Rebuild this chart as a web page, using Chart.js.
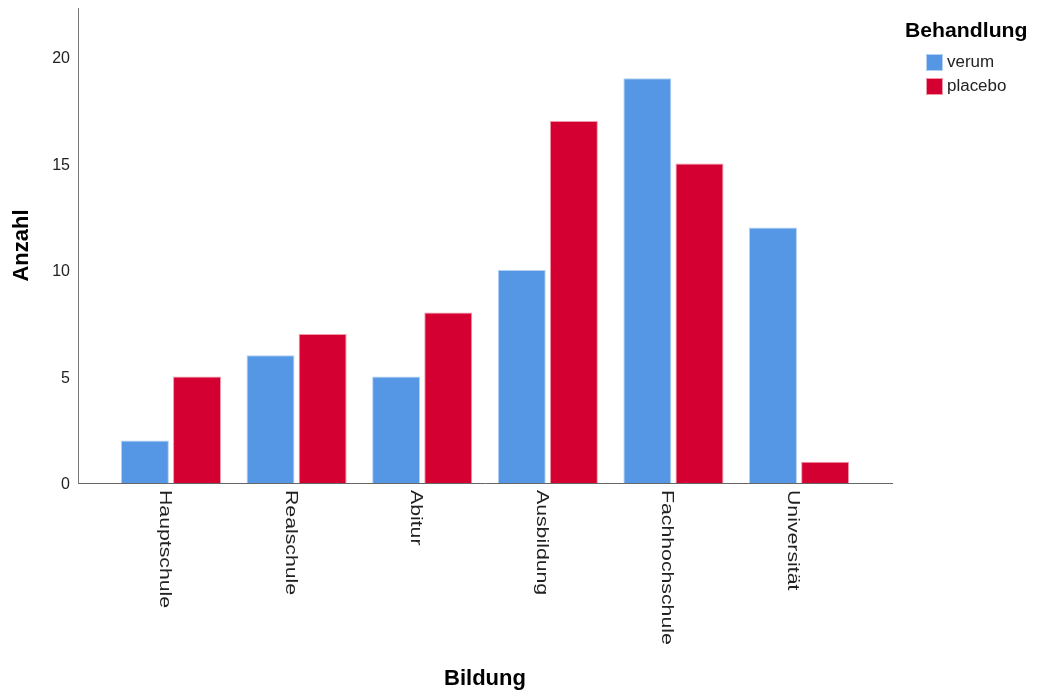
<!DOCTYPE html>
<html>
<head>
<meta charset="utf-8">
<script src="https://cdn.jsdelivr.net/npm/chart.js@4"></script>
<style>
  html, body { margin: 0; padding: 0; background: #fff; }
  #wrap { width: 1038px; height: 693px; }
</style>
</head>
<body>
<div id="wrap"><canvas id="chart" width="1038" height="693"></canvas></div>
<script>
// Data
const categories = ['Hauptschule', 'Realschule', 'Abitur', 'Ausbildung', 'Fachhochschule', 'Universität'];
const verum = [2, 6, 5, 10, 19, 12];
const placebo = [5, 7, 8, 17, 15, 1];
const seriesNames = ['verum', 'placebo'];
const yTicks = [0, 5, 10, 15, 20];

const colors = {
    verum: '#5597e4',
    placebo: '#d50032'
};
const borders = {
    verum: '#b3d0f3',
    placebo: '#ee97a8'
};

const FONT = 'Arial, "Liberation Sans", sans-serif';

// rotated category labels (clockwise, reading downwards)
const categoryLabels = {
    id: 'categoryLabels',
    afterDraw(chart) {
        const ctx = chart.ctx;
        const xs = chart.scales.x;
        ctx.save();
        ctx.fillStyle = '#222';
        ctx.font = '17px ' + FONT;
        ctx.textBaseline = 'alphabetic';
        ctx.textAlign = 'left';
        categories.forEach((label, i) => {
            const px = xs.getPixelForValue(i);
            ctx.save();
            ctx.translate(px - 11, chart.chartArea.bottom + 7);
            ctx.rotate(Math.PI / 2);
            ctx.scale(1.25, 1);
            ctx.fillText(label, 0, 0);
            ctx.restore();
        });
        ctx.restore();
    }
};

// legend block at the top right
const sideLegend = {
    id: 'sideLegend',
    afterDraw(chart) {
        const ctx = chart.ctx;
        const left = chart.chartArea.right;
        ctx.save();
        ctx.fillStyle = '#000';
        ctx.font = 'bold 20px ' + FONT;
        ctx.textBaseline = 'middle';
        ctx.textAlign = 'left';
        ctx.save();
        ctx.translate(left + 13, 31);
        ctx.scale(1.06, 1);
        ctx.fillText('Behandlung', 0, 0);
        ctx.restore();
        chart.data.datasets.forEach((ds, i) => {
            const y = 54 + i * 24;
            ctx.fillStyle = ds.borderColor;
            ctx.fillRect(left + 34, y, 17, 17);
            ctx.fillStyle = ds.backgroundColor;
            ctx.fillRect(left + 35, y + 1, 15, 15);
            ctx.fillStyle = '#222';
            ctx.font = '16px ' + FONT;
            ctx.save();
            ctx.translate(left + 55, y + 9);
            ctx.scale(1.06, 1);
            ctx.fillText(ds.label, 0, 0);
            ctx.restore();
        });
        ctx.restore();
    }
};

const makePoints = vals => vals.map((v, i) => ({ x: i, y: v }));

new Chart(document.getElementById('chart').getContext('2d'), {
    type: 'bar',
    data: {
        datasets: [
            {
                label: seriesNames[0],
                data: makePoints(verum),
                backgroundColor: colors.verum,
                borderColor: borders.verum,
                borderWidth: 1
            },
            {
                label: seriesNames[1],
                data: makePoints(placebo),
                backgroundColor: colors.placebo,
                borderColor: borders.placebo,
                borderWidth: 1
            }
        ]
    },
    options: {
        responsive: false,
        animation: false,
        devicePixelRatio: 1,
        categoryPercentage: 0.83,
        barPercentage: 0.92,
        layout: { padding: { top: 8, right: 146, left: 0, bottom: 0 } },
        plugins: {
            legend: { display: false },
            tooltip: { enabled: false }
        },
        scales: {
            x: {
                type: 'linear',
                offset: false,
                min: -0.74,
                max: 5.74,
                grid: { display: false, drawTicks: false, offset: false },
                border: { color: '#666', width: 1 },
                ticks: { display: false },
                afterBuildTicks: scale => {
                    scale.ticks = categories.map((c, i) => ({ value: i }));
                },
                afterFit: scale => {
                    scale.height = 210;
                    scale.paddingLeft = 0;
                    scale.paddingRight = 0;
                },
                title: {
                    display: true,
                    text: 'Bildung',
                    color: '#000',
                    font: { family: FONT, size: 22, weight: 'bold' },
                    padding: { top: 0, bottom: 1 }
                }
            },
            y: {
                min: 0,
                max: 22.3,
                grid: { display: false, drawTicks: false },
                border: { color: '#777', width: 1 },
                afterBuildTicks: scale => {
                    scale.ticks = yTicks.map(v => ({ value: v }));
                },
                ticks: {
                    color: '#222',
                    padding: 8,
                    labelOffset: 2,
                    font: { family: FONT, size: 16 }
                },
                afterFit: scale => {
                    scale.width = 78;
                    scale.paddingTop = 0;
                    scale.paddingBottom = 0;
                },
                title: {
                    display: true,
                    text: 'Anzahl',
                    color: '#000',
                    font: { family: FONT, size: 22, weight: 'bold' },
                    padding: { top: 9, bottom: 0 }
                }
            }
        }
    },
    plugins: [categoryLabels, sideLegend]
});
</script>
</body>
</html>
